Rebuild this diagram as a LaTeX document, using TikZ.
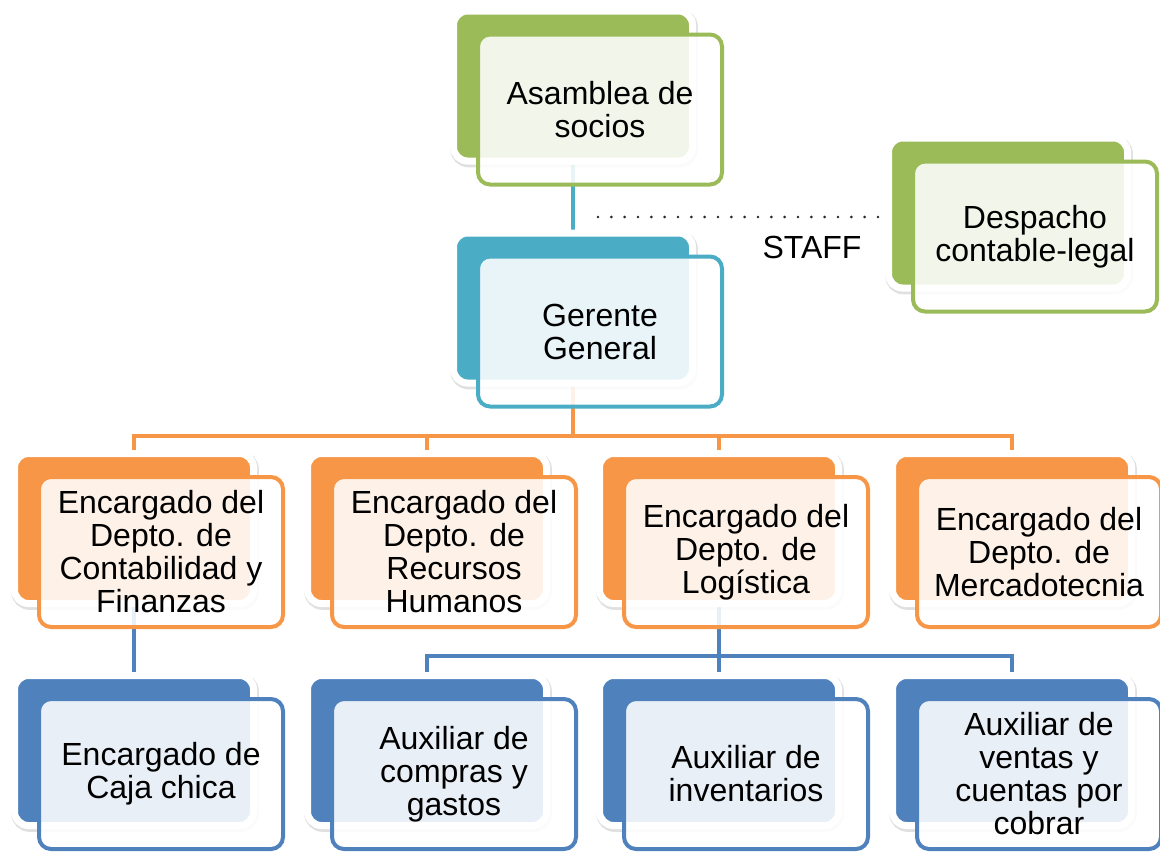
\documentclass[tikz,border=0pt]{standalone}
\usepackage{fontspec}
\setmainfont{Liberation Sans}
\usetikzlibrary{shadows,backgrounds}
\definecolor{verde}{HTML}{9BBB59}
\definecolor{turquesa}{HTML}{4BACC6}
\definecolor{naranja}{HTML}{F79646}
\definecolor{azul}{HTML}{4F81BD}

\begin{document}
\begin{tikzpicture}[x=0.75pt,y=-0.75pt,
fondo/.style={draw=white,fill=#1,line width=5.25pt,rounded corners=10.5pt,inner sep=0pt,minimum width=179.25pt,minimum height=112.5pt,drop shadow={shadow xshift=0.8pt,shadow yshift=-1.5pt,draw=black,fill=black,line width=6.5pt,opacity=0.12}},
frente/.style={draw=#1,line width=3pt,fill=white,fill opacity=0.88,text opacity=1,rounded corners=9pt,inner sep=0pt,minimum width=183pt,minimum height=112.5pt,align=center,font=\fontsize{24}{24.75}\selectfont},
linea/.style={draw=#1,line width=3pt}]
\useasboundingbox (0,0) rectangle (1160,851);
\def\dx{27}
\def\dy{23.5}
\def\fila{528.5}
\def\filb{750.5}
\foreach \nom/\px/\py/\col/\txt in {asamblea/573/86/verde/{Asamblea de\\socios},gerente/573/308/turquesa/{Gerente\\General},despacho/1008/213/verde/{Despacho\\contable-legal},
conta/134/\fila/naranja/{Encargado del\\Depto. de\\Contabilidad y\\Finanzas},rrhh/427/\fila/naranja/{Encargado del\\Depto. de\\Recursos\\Humanos},logis/719/\fila/naranja/{Encargado del\\Depto. de\\Logística},merca/1012/\fila/naranja/{Encargado del\\Depto. de\\Mercadotecnia},
caja/134/\filb/azul/{Encargado de\\Caja chica},compras/427/\filb/azul/{Auxiliar de\\compras y\\gastos},inventarios/719/\filb/azul/{Auxiliar de\\inventarios},ventas/1012/\filb/azul/{Auxiliar de\\ventas y\\cuentas por\\cobrar}}{
\node[fondo=\col] (\nom-b) at (\px,\py) {};
\node[frente=\col] (\nom) at ([shift={(\dx,\dy)}]\nom-b.center) {\txt};}
\node[font=\fontsize{24}{24.75}\selectfont] (staff) at (812,247) {STAFF};
\coordinate (staffini) at (598,217);
\begin{scope}[on background layer]
\draw[linea=turquesa] (asamblea-b.south) -- (gerente-b.north);
\foreach \nom in {conta,rrhh,logis,merca}{
\draw[linea=naranja] (gerente-b.south) -- +(0,49) -| (\nom-b.north);}
\draw[linea=azul] (conta-b.south) -- (caja-b.north);
\foreach \nom in {compras,inventarios,ventas}{
\draw[linea=azul] (logis-b.south) -- +(0,48.5) -| (\nom-b.north);}
\draw[line width=2.2pt,line cap=round,dash pattern=on 0pt off 10pt,black!85] (staffini) -- (staffini -| despacho-b.west);
\end{scope}
\end{tikzpicture}
\end{document}
